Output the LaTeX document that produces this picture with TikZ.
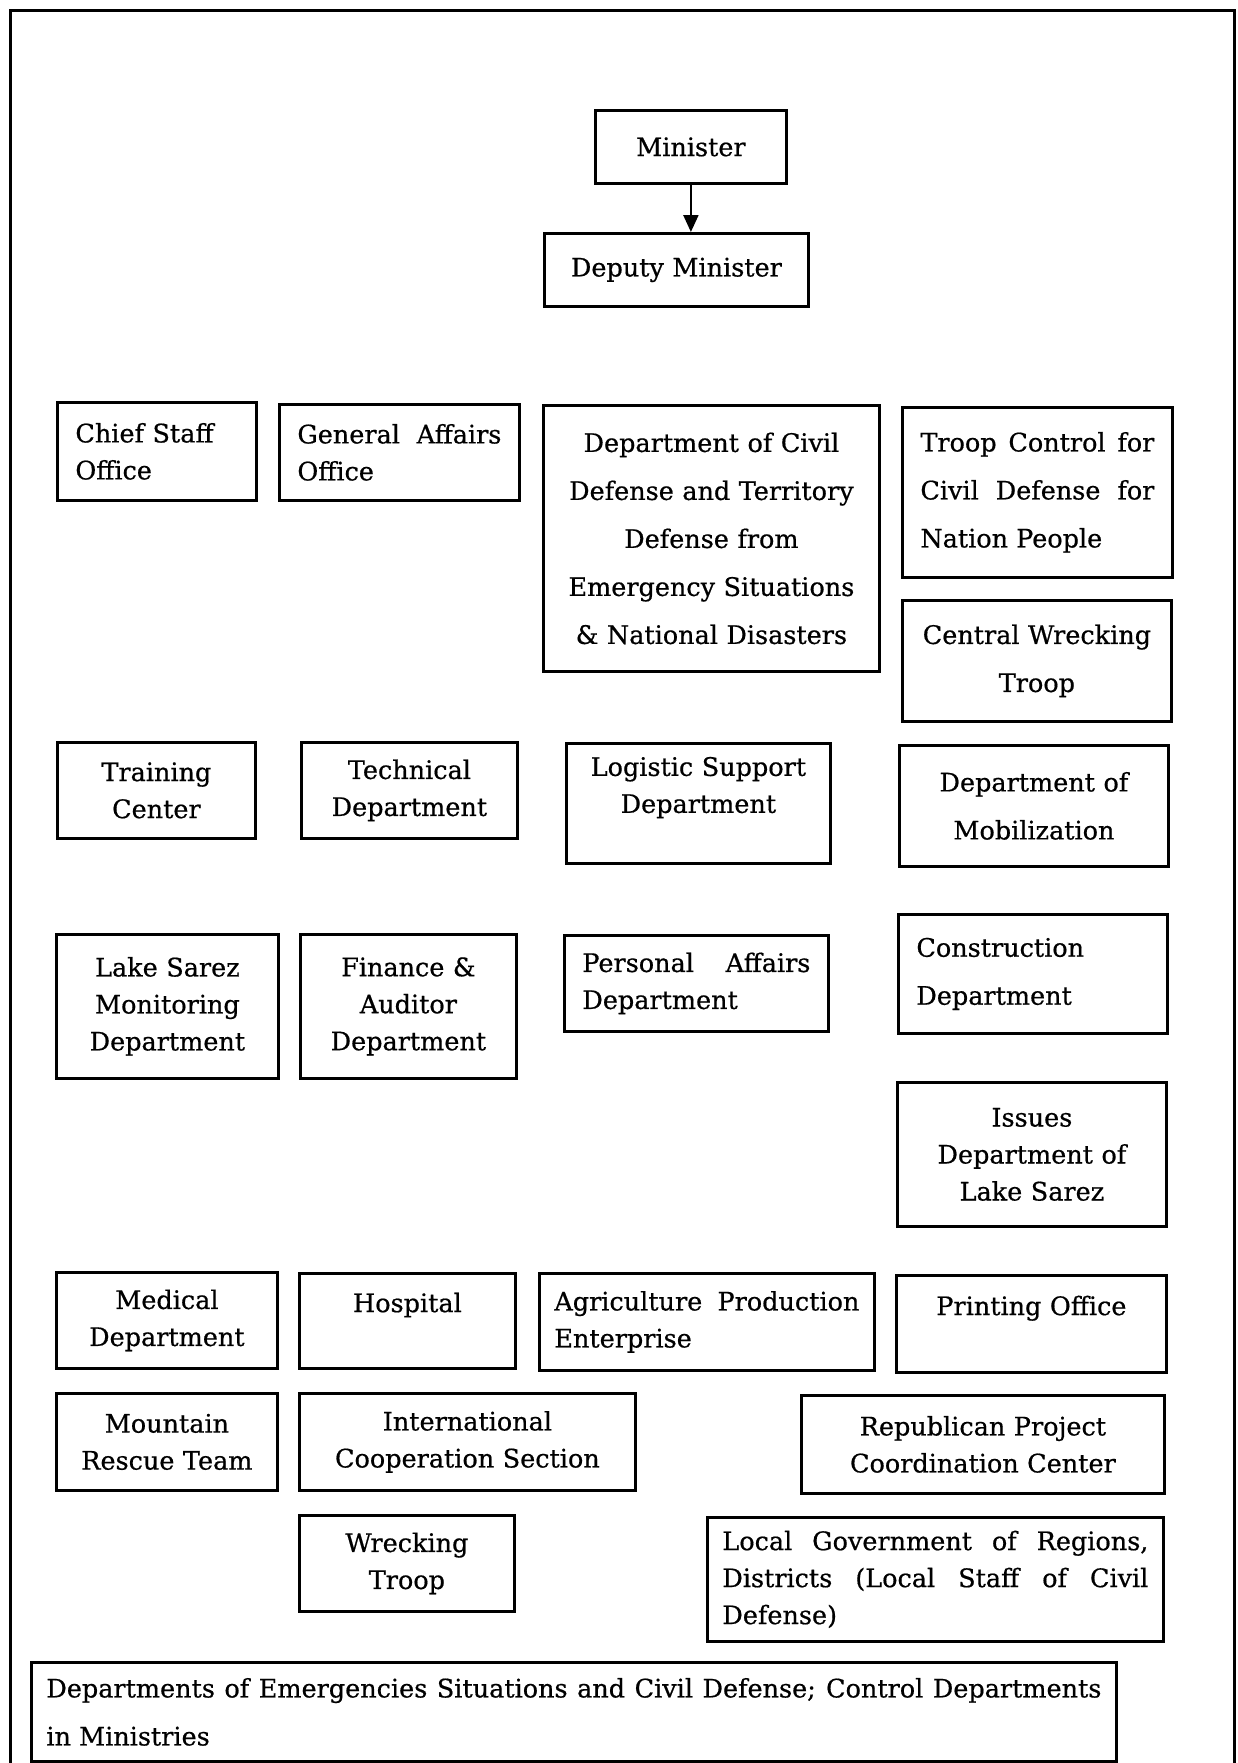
\documentclass[tikz,border=0pt]{standalone}
\usepackage{fontspec}
\setmainfont{DejaVu Serif}[FakeBold=0.6]
\usepackage{tikz}
\usetikzlibrary{arrows.meta}

\begin{document}
\begin{tikzpicture}[x=1pt,y=-1pt,
  unit/.style={draw, line width=2.8pt, anchor=north west, inner xsep=18pt, inner ysep=4pt, align=center, font=\fontsize{25.5}{37}\selectfont},
  loose/.style={font=\fontsize{25.5}{48}\selectfont}]
\useasboundingbox (0,0) rectangle (1237,1763);
\draw[line width=3pt] (10,1763)--(10,11)--(1234,11)--(1234,1763);

\node[unit, text width=155pt, minimum height=73pt] (minister) at (594,109) {Minister};
\node[unit, text width=228pt, minimum height=73pt] (deputy) at (543,232) {Deputy Minister};
\draw[-{Triangle[length=17pt,width=15pt]}, line width=2.2pt] (minister.south)--(minister.south |- deputy.north);

\node[unit, text width=163pt, minimum height=98pt, align=left] (chief) at (56,401) {Chief Staff\\Office};
\node[unit, text width=204pt, minimum height=96pt, align=justify] (general) at (278,403) {General Affairs\linebreak Office};
\node[unit, loose, text width=300pt, minimum height=266pt] (civil) at (542,404) {Department of Civil\\Defense and Territory\\Defense from\\Emergency Situations\\\& National Disasters};
\node[unit, loose, text width=234pt, minimum height=170pt, align=justify] (troop) at (901,406) {Troop Control for\linebreak Civil Defense for\linebreak Nation People};
\node[unit, loose, text width=233pt, minimum height=121pt] (central) at (901,599) {Central Wrecking\\Troop};

\node[unit, text width=162pt, minimum height=96pt] (training) at (56,741) {Training\\Center};
\node[unit, text width=180pt, minimum height=96pt] (technical) at (300,741) {Technical\\Department};
\node[unit, text width=228pt, minimum height=120pt] (logistic) at (565,742) {Logistic Support\\Department\\~};
\node[unit, loose, text width=233pt, minimum height=121pt] (mobilization) at (898,744) {Department of\\Mobilization};

\node[unit, text width=186pt, minimum height=144pt] (lakesarez) at (55,933) {Lake Sarez\\Monitoring\\Department};
\node[unit, text width=180pt, minimum height=144pt] (finance) at (299,933) {Finance \&\\Auditor\\Department};
\node[unit, text width=228pt, minimum height=96pt, align=justify] (personal) at (563,934) {Personal Affairs\linebreak Department};
\node[unit, loose, text width=233pt, minimum height=119pt, align=left] (construction) at (897,913) {Construction\\Department};
\node[unit, text width=233pt, minimum height=144pt] (issues) at (896,1081) {Issues\\Department of\\Lake Sarez};

\node[unit, text width=185pt, minimum height=96pt] (medical) at (55,1271) {Medical\\Department};
\node[unit, text width=180pt, minimum height=95pt] (hospital) at (298,1272) {Hospital\\~};
\node[unit, inner xsep=15pt, text width=305pt, minimum height=97pt, align=justify] (agriculture) at (538,1272) {Agriculture Production\linebreak Enterprise};
\node[unit, text width=234pt, minimum height=97pt] (printing) at (895,1274) {Printing Office\\~};

\node[unit, text width=185pt, minimum height=97pt] (mountain) at (55,1392) {Mountain\\Rescue Team};
\node[unit, text width=300pt, minimum height=97pt] (international) at (298,1392) {International\\Cooperation Section};
\node[unit, text width=327pt, minimum height=98pt] (republican) at (800,1394) {Republican Project\\Coordination Center};
\node[unit, text width=179pt, minimum height=96pt] (wrecking) at (298,1514) {Wrecking\\Troop};
\node[unit, inner xsep=15pt, text width=426pt, minimum height=124pt, align=justify] (localgov) at (706,1516) {Local Government of Regions,\linebreak Districts (Local Staff of Civil\linebreak Defense)};

\node[unit, loose, inner xsep=15pt, text width=1055pt, minimum height=99pt, align=justify] (ministries) at (30,1661) {Departments of Emergencies Situations and Civil Defense; Control Departments\linebreak in Ministries};
\end{tikzpicture}
\end{document}
